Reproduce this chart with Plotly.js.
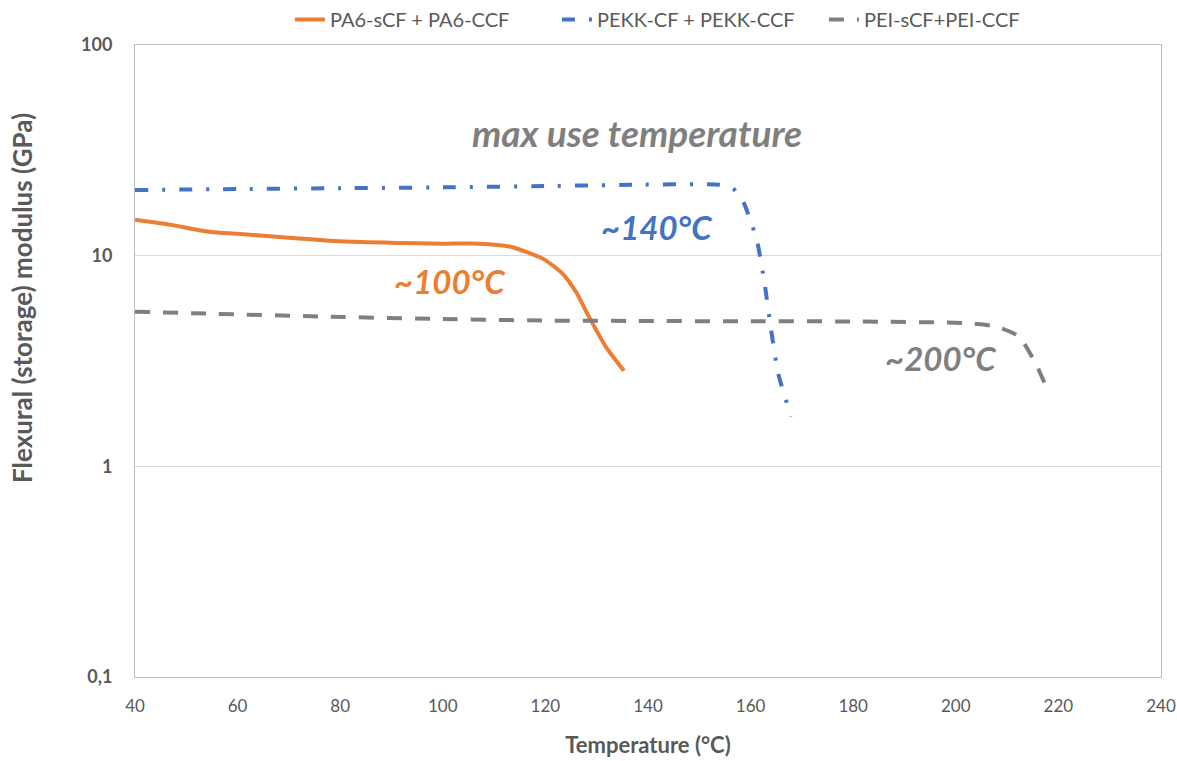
<!DOCTYPE html>
<html>
<head>
<meta charset="utf-8">
<script src="https://cdn.plot.ly/plotly-3.0.1.min.js"></script>
<style>html,body{margin:0;padding:0;background:#fff}#chart{width:1177px;height:761px}</style>
</head>
<body>
<div id="chart"></div>
<script>
// PA6-sCF + PA6-CCF
const pa6Temp = [40, 47, 54.8, 60, 71.2, 80, 90.8, 100, 107, 113.4, 116.8, 119.9, 123.2, 126, 128.5, 131.8, 135.3];
const pa6Mod  = [14.8, 14.0, 12.95, 12.7, 12.1, 11.7, 11.5, 11.4, 11.4, 11.0, 10.3, 9.55, 8.28, 6.7, 5.12, 3.69, 2.84];
// PEKK-CF + PEKK-CCF
const pekkTemp = [40, 60, 80, 100, 120, 137, 153.9, 156.5, 158.4, 160.4, 161.3, 162.8, 164.0, 165.4, 167.9];
const pekkMod  = [20.5, 20.7, 20.9, 21.1, 21.4, 21.7, 21.7, 20.9, 18.4, 13.7, 11.65, 7.18, 4.44, 2.75, 1.72];
// PEI-sCF + PEI-CCF
const peiTemp = [40, 55, 78, 100, 120, 137, 160, 180, 202.1, 207.6, 212.3, 215.5, 217.5, 218.0];
const peiMod  = [5.42, 5.3, 5.13, 5.0, 4.92, 4.9, 4.88, 4.87, 4.78, 4.62, 4.13, 3.1, 2.43, 2.31];

const seriesNames = ['PA6-sCF + PA6-CCF', 'PEKK-CF + PEKK-CCF', 'PEI-sCF+PEI-CCF'];
const yTickVals = [0.1, 1, 10, 100];
const yTickText = ['0,1', '1', '10', '100'];
const xTitle = 'Temperature (°C)';
const yTitle = 'Flexural (storage) modulus (GPa)';
const annoTexts = ['max use temperature', '~100°C', '~140°C', '~200°C'];

const FONT = 'Lato, "Open Sans", sans-serif';
const traces = [
  {x: pa6Temp, y: pa6Mod, name: seriesNames[0], mode: 'lines',
   line: {color: '#ED7D31', width: 4, shape: 'spline', smoothing: 0.6}},
  {x: pekkTemp, y: pekkMod, name: seriesNames[1], mode: 'lines',
   line: {color: '#4472C4', width: 4, dash: '13px,14px,3px,14px', shape: 'spline', smoothing: 0.6}},
  {x: peiTemp, y: peiMod, name: seriesNames[2], mode: 'lines',
   line: {color: '#7F7F7F', width: 4, dash: '15px,13px', shape: 'spline', smoothing: 0.6}}
];

function anno(text, x, y, size, color) {
  return {text: text, xref: 'paper', yref: 'paper', x: x, y: y,
    xanchor: 'center', yanchor: 'middle', showarrow: false,
    font: {size: size, color: color, weight: 'bold', style: 'italic'}};
}

const layout = {
  width: 1177, height: 761,
  margin: {l: 135, r: 16, t: 45, b: 84, autoexpand: false},
  paper_bgcolor: '#fff', plot_bgcolor: '#fff',
  font: {family: FONT, color: '#595959', size: 17},
  showlegend: true,
  legend: {orientation: 'h', x: 0.151, xanchor: 'left', xref: 'paper',
           y: 1.0, yanchor: 'top', yref: 'container',
           entrywidth: 222, entrywidthmode: 'pixels',
           font: {size: 20, color: '#595959'}, bgcolor: 'rgba(0,0,0,0)'},
  xaxis: {range: [40, 240], dtick: 20, tick0: 40, showgrid: false, zeroline: false,
          showline: true, linecolor: '#bfbfbf', linewidth: 1, mirror: true,
          ticks: '', ticklabelstandoff: 14,
          tickfont: {size: 17, color: '#595959'},
          title: {text: xTitle, font: {size: 22, color: '#595959', weight: 'bold'}, standoff: 22}},
  yaxis: {type: 'log', range: [-1, 2], tickvals: yTickVals, ticktext: yTickText,
          showgrid: true, gridcolor: '#d9d9d9', gridwidth: 1, zeroline: false,
          showline: true, linecolor: '#bfbfbf', linewidth: 1, mirror: true,
          ticks: '', ticklabelstandoff: 18,
          tickfont: {size: 18, color: '#595959', weight: 'bold'}},
  annotations: [
    {text: yTitle, xref: 'paper', yref: 'paper', x: -0.110, y: 0.600, textangle: -90,
     xanchor: 'center', yanchor: 'middle', showarrow: false,
     font: {size: 26, color: '#595959', weight: 'bold'}},
    anno(annoTexts[0], 0.489, 0.862, 37, '#7F7F7F'),
    anno(annoTexts[1], 0.307, 0.627, 33, '#ED7D31'),
    anno(annoTexts[2], 0.509, 0.712, 33, '#4472C4'),
    anno(annoTexts[3], 0.786, 0.505, 33, '#7F7F7F')
  ]
};

Plotly.newPlot('chart', traces, layout, {displayModeBar: false, staticPlot: true});
</script>
</body>
</html>
